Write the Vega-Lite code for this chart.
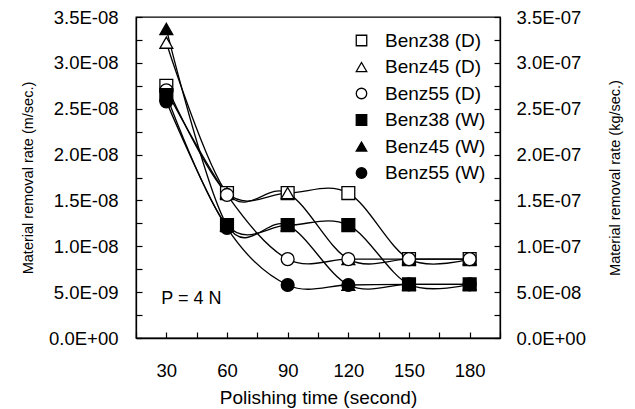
{
  "$schema": "https://vega.github.io/schema/vega-lite/v6.json",
  "width": 364,
  "height": 321,
  "autosize": {"type": "none"},
  "padding": {"left": 136, "top": 17, "right": 135, "bottom": 71},
  "background": "white",
  "config": {
    "font": "Liberation Sans",
    "view": {"stroke": "black", "strokeWidth": 1.3},
    "axis": {"grid": false, "labelColor": "black", "titleColor": "black", "labelFont": "Liberation Sans", "titleFont": "Liberation Sans", "titleFontWeight": "normal"}
  },
  "data": {
    "values": [
      {"t": 30, "s": "Benz38 (D)", "v": 2.75e-8},
      {"t": 60, "s": "Benz38 (D)", "v": 1.58e-8},
      {"t": 90, "s": "Benz38 (D)", "v": 1.58e-8},
      {"t": 120, "s": "Benz38 (D)", "v": 1.58e-8},
      {"t": 150, "s": "Benz38 (D)", "v": 0.86e-8},
      {"t": 180, "s": "Benz38 (D)", "v": 0.86e-8},
      {"t": 30, "s": "Benz45 (D)", "v": 3.22e-8},
      {"t": 60, "s": "Benz45 (D)", "v": 1.58e-8},
      {"t": 90, "s": "Benz45 (D)", "v": 1.58e-8},
      {"t": 120, "s": "Benz45 (D)", "v": 0.86e-8},
      {"t": 150, "s": "Benz45 (D)", "v": 0.86e-8},
      {"t": 180, "s": "Benz45 (D)", "v": 0.86e-8},
      {"t": 30, "s": "Benz55 (D)", "v": 2.70e-8},
      {"t": 60, "s": "Benz55 (D)", "v": 1.56e-8},
      {"t": 90, "s": "Benz55 (D)", "v": 0.86e-8},
      {"t": 120, "s": "Benz55 (D)", "v": 0.86e-8},
      {"t": 150, "s": "Benz55 (D)", "v": 0.86e-8},
      {"t": 180, "s": "Benz55 (D)", "v": 0.86e-8},
      {"t": 30, "s": "Benz38 (W)", "v": 2.65e-8},
      {"t": 60, "s": "Benz38 (W)", "v": 1.23e-8},
      {"t": 90, "s": "Benz38 (W)", "v": 1.23e-8},
      {"t": 120, "s": "Benz38 (W)", "v": 1.23e-8},
      {"t": 150, "s": "Benz38 (W)", "v": 0.585e-8},
      {"t": 180, "s": "Benz38 (W)", "v": 0.585e-8},
      {"t": 30, "s": "Benz45 (W)", "v": 3.37e-8},
      {"t": 60, "s": "Benz45 (W)", "v": 1.23e-8},
      {"t": 90, "s": "Benz45 (W)", "v": 1.23e-8},
      {"t": 120, "s": "Benz45 (W)", "v": 0.58e-8},
      {"t": 150, "s": "Benz45 (W)", "v": 0.585e-8},
      {"t": 180, "s": "Benz45 (W)", "v": 0.585e-8},
      {"t": 30, "s": "Benz55 (W)", "v": 2.58e-8},
      {"t": 60, "s": "Benz55 (W)", "v": 1.20e-8},
      {"t": 90, "s": "Benz55 (W)", "v": 0.578e-8},
      {"t": 120, "s": "Benz55 (W)", "v": 0.578e-8},
      {"t": 150, "s": "Benz55 (W)", "v": 0.585e-8},
      {"t": 180, "s": "Benz55 (W)", "v": 0.585e-8}
    ]
  },
  "encoding": {
    "x": {
      "field": "t", "type": "quantitative",
      "scale": {"domain": [15, 195], "nice": false, "zero": false},
      "axis": {
        "title": "Polishing time (second)",
        "values": [15, 30, 45, 60, 75, 90, 105, 120, 135, 150, 165, 180, 195],
        "labelExpr": "datum.value % 30 == 0 ? datum.label : ''",
        "domain": true, "domainColor": "black", "domainWidth": 1.3,
        "ticks": true, "tickColor": "black", "tickWidth": 1.2, "tickSize": -6,
        "labelPadding": 29, "labelFontSize": 18.5,
        "titleFontSize": 19, "titlePadding": 9
      }
    }
  },
  "layer": [
    {
      "mark": {"type": "line", "interpolate": "cardinal", "color": "black", "strokeWidth": 1.3},
      "encoding": {
        "detail": {"field": "s"},
        "y": {
          "field": "v", "type": "quantitative",
          "scale": {"domain": [0, 3.5e-8], "nice": false},
          "axis": {
            "orient": "left",
            "title": "Material removal rate (m/sec.)",
            "values": [0, 2.5e-9, 5e-9, 7.5e-9, 1e-8, 1.25e-8, 1.5e-8, 1.75e-8, 2e-8, 2.25e-8, 2.5e-8, 2.75e-8, 3e-8, 3.25e-8, 3.5e-8],
            "labelExpr": "round(datum.value * 4e8) % 2 == 1 ? '' : (datum.value == 0 ? '0.0E+00' : replace(upper(format(datum.value, '.1e')), 'E-', 'E-0'))",
            "domain": true, "domainColor": "black", "domainWidth": 1.3,
            "ticks": true, "tickColor": "black", "tickWidth": 1.2, "tickSize": -6,
            "labelPadding": 24, "labelFontSize": 18.5,
            "titleFontSize": 14.5, "titlePadding": 13
          }
        }
      }
    },
    {
      "mark": {"type": "point", "filled": true, "stroke": "black", "strokeWidth": 1.3, "opacity": 1},
      "encoding": {
        "y": {
          "field": "v", "type": "quantitative",
          "axis": {
            "orient": "right",
            "title": "Material removal rate (kg/sec.)",
            "values": [0, 2.5e-9, 5e-9, 7.5e-9, 1e-8, 1.25e-8, 1.5e-8, 1.75e-8, 2e-8, 2.25e-8, 2.5e-8, 2.75e-8, 3e-8, 3.25e-8, 3.5e-8],
            "labelExpr": "round(datum.value * 4e8) % 2 == 1 ? '' : (datum.value == 0 ? '0.0E+00' : replace(upper(format(datum.value * 10, '.1e')), 'E-', 'E-0'))",
            "domain": true, "domainColor": "black", "domainWidth": 1.3,
            "ticks": true, "tickColor": "black", "tickWidth": 1.2, "tickSize": -6,
            "labelPadding": 22, "labelFontSize": 18.5,
            "titleFontSize": 14.5, "titlePadding": 37, "titleAngle": 270
          }
        },
        "shape": {
          "field": "s", "type": "nominal",
          "scale": {
            "domain": ["Benz38 (D)", "Benz45 (D)", "Benz55 (D)", "Benz38 (W)", "Benz45 (W)", "Benz55 (W)"],
            "range": ["square", "triangle-up", "circle", "square", "triangle-up", "circle"]
          },
          "legend": {
            "title": null, "orient": "top-right", "offset": 14, "padding": 0,
            "labelFontSize": 19, "labelColor": "black", "labelFont": "Liberation Sans",
            "symbolSize": 110, "symbolStrokeWidth": 1.3,
            "labelOffset": 14, "rowPadding": 6.5
          }
        },
        "fill": {
          "field": "s", "type": "nominal",
          "scale": {
            "domain": ["Benz38 (D)", "Benz45 (D)", "Benz55 (D)", "Benz38 (W)", "Benz45 (W)", "Benz55 (W)"],
            "range": ["white", "white", "white", "black", "black", "black"]
          },
          "legend": {
            "title": null, "orient": "top-right", "offset": 14, "padding": 0,
            "labelFontSize": 19, "labelColor": "black", "labelFont": "Liberation Sans",
            "symbolSize": 110, "symbolStrokeWidth": 1.3,
            "labelOffset": 14, "rowPadding": 6.5
          }
        },
        "size": {"value": 165}
      }
    },
    {
      "data": {"values": [{"label": "P = 4 N", "t": 27.5, "v": 4.3e-9}]},
      "mark": {"type": "text", "align": "left", "baseline": "middle", "fontSize": 18, "fontWeight": "normal", "font": "Liberation Sans", "color": "black"},
      "encoding": {
        "x": {"field": "t", "type": "quantitative"},
        "y": {"field": "v", "type": "quantitative", "axis": null},
        "text": {"field": "label"}
      }
    }
  ],
  "resolve": {"axis": {"y": "independent"}}
}
